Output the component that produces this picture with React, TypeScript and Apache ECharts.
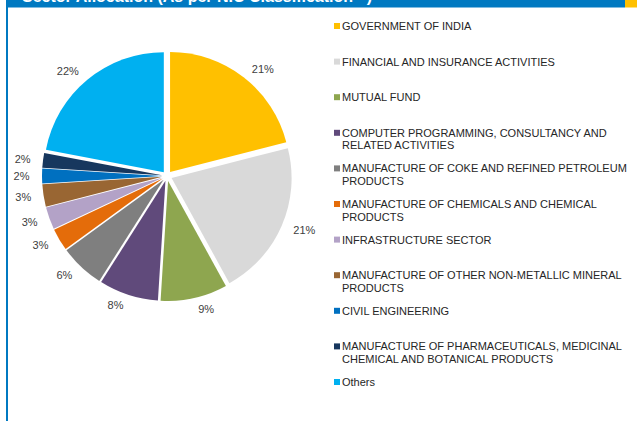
import React, { useEffect, useRef } from "react";
import * as echarts from "echarts";

const title = "Sector Allocation (As per NIC Classification ^)";

const categories = [
  "GOVERNMENT OF INDIA",
  "FINANCIAL AND INSURANCE ACTIVITIES",
  "MUTUAL FUND",
  "COMPUTER PROGRAMMING, CONSULTANCY AND RELATED ACTIVITIES",
  "MANUFACTURE OF COKE AND REFINED PETROLEUM PRODUCTS",
  "MANUFACTURE OF CHEMICALS AND CHEMICAL PRODUCTS",
  "INFRASTRUCTURE SECTOR",
  "MANUFACTURE OF OTHER NON-METALLIC MINERAL PRODUCTS",
  "CIVIL ENGINEERING",
  "MANUFACTURE OF PHARMACEUTICALS, MEDICINAL CHEMICAL AND BOTANICAL PRODUCTS",
  "Others",
];

const values = [21, 21, 9, 8, 6, 3, 3, 3, 2, 2, 22];

const colors = [
  "#FFC000",
  "#D9D9D9",
  "#8EA64F",
  "#604A7B",
  "#7F7F7F",
  "#E46C0A",
  "#B3A2C7",
  "#996633",
  "#0070C0",
  "#17375E",
  "#00B0F0",
];

const FONT = "'Liberation Sans', Arial, Helvetica, sans-serif";

export default function App() {
  const ref = useRef<HTMLDivElement>(null);

  useEffect(() => {
    if (!ref.current) return;
    const chart = echarts.init(ref.current, undefined, { renderer: "svg" });
    const data = categories.map((name, i) => ({
      name,
      value: values[i],
      selected: true,
      itemStyle: { color: colors[i] },
    }));

    const legendTop = 26;
    const legendStep = 35.6;
    const lineH = 12.7;
    const legendItems = categories.map((name, i) => ({
      type: "group",
      x: 334,
      y: legendTop + i * legendStep - 3,
      children: [
        { type: "rect", shape: { x: 0, y: 0, width: 6, height: 6 }, style: { fill: colors[i] } },
        {
          type: "text",
          x: 8,
          y: 3 - lineH / 2,
          style: {
            text: name,
            width: 291,
            overflow: "break",
            lineHeight: lineH,
            font: `11px ${FONT}`,
            fill: "#262626",
            align: "left",
            verticalAlign: "top",
          },
        },
      ],
    }));

    chart.setOption({
      animation: false,
      backgroundColor: "#ffffff",
      graphic: [
        { type: "rect", x: 6, y: 0, shape: { x: 0, y: 0, width: 619, height: 7.5 }, style: { fill: "#0079C1" } },
        { type: "rect", x: 625, y: 0, shape: { x: 0, y: 0, width: 12, height: 7.5 }, style: { fill: "#FFC000" } },
        { type: "rect", x: 6, y: 7, shape: { x: 0, y: 0, width: 2, height: 414 }, style: { fill: "#0079C1" } },
        {
          type: "text",
          x: 22,
          y: -3.5,
          style: {
            text: title,
            fill: "#ffffff",
            font: `bold 16px ${FONT}`,
            verticalAlign: "middle",
            align: "left",
          },
        },
        ...legendItems,
      ],
      series: [
        {
          type: "pie",
          center: [167, 176],
          radius: 120,
          startAngle: 90,
          clockwise: true,
          selectedMode: "multiple",
          selectedOffset: 5,
          avoidLabelOverlap: false,
          emphasis: { disabled: true },
          select: { itemStyle: {} },
          label: {
            show: true,
            position: "outside",
            formatter: "{c}%",
            fontFamily: FONT,
            fontSize: 11,
            color: "#404040",
            distanceToLabelLine: 1.5,
          },
          labelLine: { show: false, length: 11, length2: 0 },
          data,
        },
      ],
    });
    return () => chart.dispose();
  }, []);

  return (
    <div
      ref={ref}
      style={{ position: "fixed", left: 0, top: 0, width: 637, height: 421, background: "#fff" }}
    />
  );
}
